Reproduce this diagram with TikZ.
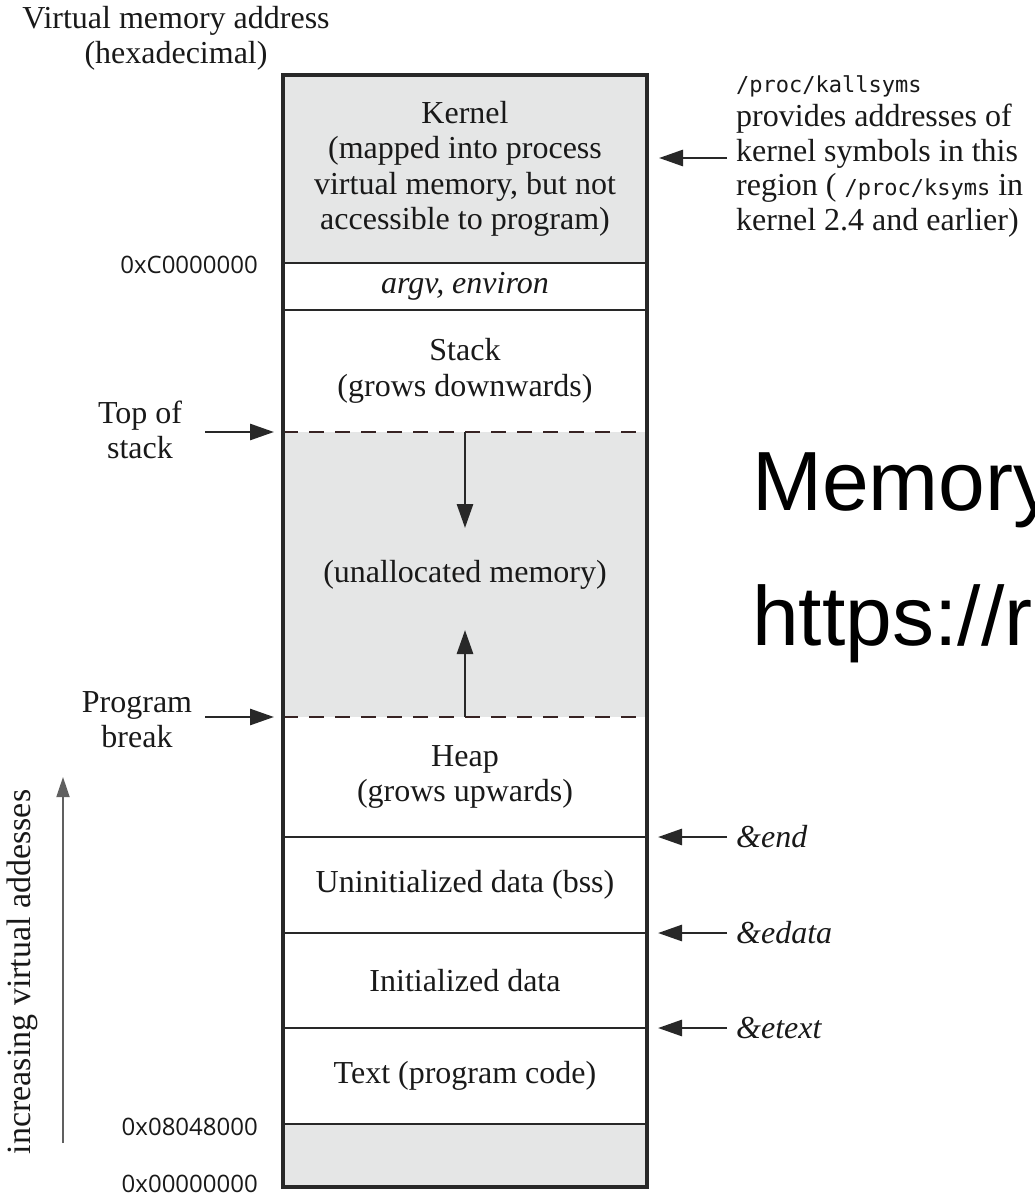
\documentclass[tikz,border=0pt]{standalone}
\usepackage{fontspec}
\setmainfont{Liberation Serif}
\newfontfamily\sansf{Open Sans}
\newfontfamily\monof{DejaVu Sans Mono}
\newfontfamily\bigf{Liberation Sans}
\usetikzlibrary{arrows.meta}
\definecolor{regiongray}{RGB}{229,230,230}
\definecolor{linecol}{RGB}{40,40,40}
\definecolor{dashcol}{RGB}{55,35,35}
\tikzset{
  seg/.style={inner sep=0pt, outer sep=0pt, minimum width=364pt, align=center,
    font=\fontsize{32}{35.5}\selectfont, text=black!90},
  grayseg/.style={seg, fill=regiongray},
  sepline/.style={draw=linecol, line width=2.8pt},
  dashline/.style={draw=dashcol, line width=2.8pt, dash pattern=on 15pt off 11pt},
  frame/.style={draw=linecol, line width=3.2pt},
  arr/.style={draw=linecol, line width=2.8pt, -{Triangle[length=24pt,width=16pt]}},
  thinarr/.style={draw=gray!75!black, line width=1.8pt, -{Triangle[length=20pt,width=13pt]}},
  lbl/.style={inner sep=0pt, align=center, font=\fontsize{32}{35}\selectfont, text=black!90},
  hexlbl/.style={inner sep=0pt, anchor=east, font=\sansf\fontsize{24}{26}\selectfont, text=black!90},
  symlbl/.style={inner sep=0pt, anchor=west, font=\itshape\fontsize{32}{35}\selectfont, text=black!90},
}
\begin{document}
\begin{tikzpicture}[x=1pt, y=-1pt]
\useasboundingbox (0,0) rectangle (1034,1199);

% segments
\node[grayseg, minimum height=188pt] (kernel) at (465,169)
  {Kernel\\(mapped into process\\virtual memory, but not\\accessible to program)};
\node[seg, minimum height=47pt] (argv) at (465,286.5) {\itshape argv, environ};
\node[seg, minimum height=122pt] (stack) at (465,371) {Stack\\(grows downwards)};
\node[grayseg, minimum height=285pt] (unalloc) at (465,574.5) {(unallocated memory)};
\node[seg, minimum height=120pt] (heap) at (465,777) {Heap\\(grows upwards)};
\node[seg, minimum height=96pt] (bss) at (465,885) {Uninitialized data (bss)};
\node[seg, minimum height=95pt] (data) at (465,980.5) {Initialized data};
\node[seg, minimum height=96pt] (textseg) at (465,1076) {Text (program code)};
\node[grayseg, minimum height=63pt] (low) at (465,1155.5) {};

% separators
\foreach \s in {kernel,argv,heap,bss,data,textseg}
  \draw[sepline] (\s.south west) -- (\s.south east);
\draw[dashline] (unalloc.north west) -- (unalloc.north east);
\draw[dashline] (unalloc.south west) -- (unalloc.south east);
\draw[frame] (kernel.north west) rectangle (low.south east);

% growth arrows
\coordinate (downT) at (465,528);
\coordinate (upT) at (465,630);
\draw[arr] (unalloc.north) -- (downT);
\draw[arr] (unalloc.south) -- (upT);

% left labels
\node[lbl] (vma) at (176,38) {Virtual memory address\\(hexadecimal)};
\node[hexlbl] (hexC) at (258,265) {0xC0000000};
\node[hexlbl] (hex8) at (258,1127) {0x08048000};
\node[hexlbl] (hex0) at (258,1184) {0x00000000};

\node[lbl] (tos) at (140,430) {Top of\\stack};
\coordinate (tosA) at (205,432);
\draw[arr, shorten >=9pt] (tosA) -- (unalloc.north west);

\node[lbl] (pbrk) at (137,720) {Program\\break};
\coordinate (pbrkA) at (205,717);
\draw[arr, shorten >=9pt] (pbrkA) -- (unalloc.south west);

\node[lbl, rotate=90, font=\fontsize{34}{36}\selectfont] (incr) at (22,972) {increasing virtual addesses};
\coordinate (incA) at (63,1143);
\coordinate (incB) at (63,777);
\draw[thinarr] (incA) -- (incB);

% right annotations
\node[inner sep=0pt, anchor=west, align=left, font=\fontsize{32}{34.5}\selectfont, text=black!90] (kall) at (736,156)
  {{\monof\fontsize{22}{34.5}\selectfont /proc/kallsyms}\\
   provides addresses of\\
   kernel symbols in this\\
   region ( {\monof\fontsize{22}{34.5}\selectfont /proc/ksyms} in\\
   kernel 2.4 and earlier)};
\coordinate (kallA) at (727,158);
\draw[arr, shorten >=12pt] (kallA) -- (kallA -| kernel.east);

\coordinate (endA) at (727,837);
\draw[arr, shorten >=11pt] (endA) -- (heap.south east);
\node[symlbl] (endL) at (736,837) {\&end};
\coordinate (edataA) at (727,933);
\draw[arr, shorten >=11pt] (edataA) -- (bss.south east);
\node[symlbl] (edataL) at (736,933) {\&edata};
\coordinate (etextA) at (727,1028);
\draw[arr, shorten >=11pt] (etextA) -- (data.south east);
\node[symlbl] (etextL) at (736,1028) {\&etext};

% overlay text
\begin{scope}
\clip (0,0) rectangle (1034,1199);
\node[inner sep=0pt, anchor=base west, font=\bigf\fontsize{84}{90}\selectfont] (mem) at (752,510) {Memory};
\node[inner sep=0pt, anchor=base west, font=\bigf\fontsize{84}{90}\selectfont] (url) at (752,645) {https://r};
\end{scope}
\end{tikzpicture}
\end{document}
